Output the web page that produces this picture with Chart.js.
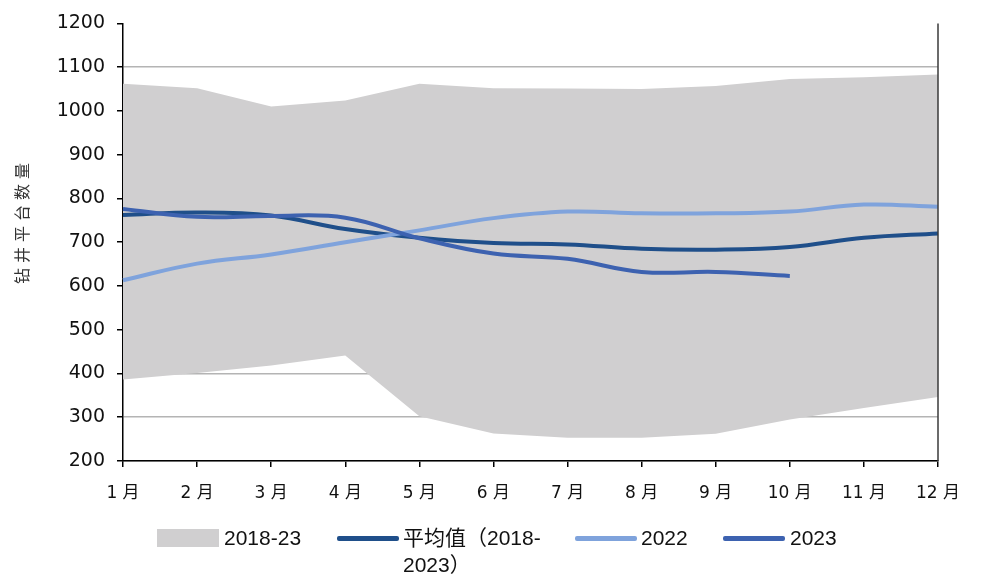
<!DOCTYPE html>
<html>
<head>
<meta charset="utf-8">
<script src="https://cdn.jsdelivr.net/npm/chart.js@4.4.1/dist/chart.umd.min.js"></script>
<style>
  body { margin: 0; background: #fff; }
  #wrap { position: relative; width: 994px; height: 578px; }
  #legend { position: absolute; left: 0; top: 0; width: 994px; height: 578px; pointer-events: none;
            font-family: "Liberation Sans", "Noto Sans CJK SC", sans-serif; font-size: 21px; color: #111; }
  .sw { position: absolute; }
  .lb { position: absolute; white-space: pre-line; line-height: 27px; }
</style>
</head>
<body>
<div id="wrap">
  <canvas id="rigChart" width="994" height="578"></canvas>
  <div id="legend"></div>
</div>
<script>
// 数据
const months = ['1 月', '2 月', '3 月', '4 月', '5 月', '6 月', '7 月', '8 月', '9 月', '10 月', '11 月', '12 月'];
const rangeLow  = [386, 401, 418, 441, 302, 263, 253, 253, 262, 295, 321, 346];
const rangeHigh = [1062, 1052, 1010, 1024, 1062, 1052, 1051, 1050, 1057, 1073, 1077, 1083];
const avg1823   = [762, 768, 761, 730, 710, 698, 695, 685, 683, 689, 710, 720];
const y2022     = [613, 651, 672, 700, 727, 755, 770, 766, 766, 770, 786, 781];
const y2023     = [776, 758, 760, 756, 709, 674, 662, 632, 632, 623, null, null];
const seriesNames = ['2018-23', '平均值（2018-\n2023）', '2022', '2023'];
const yTitle = '钻井平台数量';

const GRAY = '#d0cfd0';
const NAVY = '#1f4f8a';
const LIGHT = '#7fa3dc';
const MID = '#3d62b0';

// 右侧边框 + 纵轴标题
const extras = {
    id: 'extras',
    afterDatasetsDraw(chart) {
        const a = chart.chartArea, ctx = chart.ctx;
        ctx.save();
        ctx.strokeStyle = '#3a3a3a';
        ctx.lineWidth = 1.5;
        ctx.beginPath();
        ctx.moveTo(a.right, a.top);
        ctx.lineTo(a.right, a.bottom);
        ctx.stroke();
        ctx.restore();
    },
    afterDraw(chart) {
        const ctx = chart.ctx;
        ctx.save();
        ctx.translate(22, 223);
        ctx.rotate(-Math.PI / 2);
        ctx.font = '16px "Noto Sans CJK SC"';
        ctx.letterSpacing = '5px';
        ctx.fillStyle = '#333';
        ctx.textAlign = 'center';
        ctx.textBaseline = 'middle';
        ctx.fillText(yTitle, 2, 0);
        ctx.restore();
    }
};

const ctx = document.getElementById('rigChart').getContext('2d');
new Chart(ctx, {
    type: 'line',
    data: {
        labels: months,
        datasets: [
            { label: 'low', data: rangeLow, borderWidth: 0, borderColor: 'rgba(0,0,0,0)', pointRadius: 0, fill: false, tension: 0, order: 11 },
            { label: seriesNames[0], data: rangeHigh, borderWidth: 0, borderColor: 'rgba(0,0,0,0)', backgroundColor: GRAY, pointRadius: 0, fill: '-1', tension: 0, order: 10 },
            { label: seriesNames[1], data: avg1823, borderColor: NAVY, borderWidth: 4, pointRadius: 0, fill: false, tension: 0.4, order: 3 },
            { label: seriesNames[2], data: y2022, borderColor: LIGHT, borderWidth: 4, pointRadius: 0, fill: false, tension: 0.4, order: 2 },
            { label: seriesNames[3], data: y2023, borderColor: MID, borderWidth: 4, pointRadius: 0, fill: false, tension: 0.4, order: 1, spanGaps: false }
        ]
    },
    options: {
        responsive: false,
        animation: false,
        layout: { padding: { left: 0, top: 22, right: 56, bottom: 0 } },
        plugins: {
            legend: { display: false },
            tooltip: { enabled: false }
        },
        scales: {
            x: {
                afterFit: s => { s.height = 578 - 461; },
                grid: { drawOnChartArea: false, drawTicks: true, tickLength: 6, tickColor: '#000', lineWidth: 1.5 },
                border: { color: '#000', width: 1.5 },
                ticks: { padding: 16, maxRotation: 0, autoSkip: false, color: '#111',
                         font: { family: '"DejaVu Sans", "Noto Sans CJK SC"', size: 17 } }
            },
            y: {
                min: 200, max: 1200,
                afterFit: s => { s.width = 123; },
                grid: {
                    color: c => (c.tick && c.tick.value === 1200) ? 'rgba(0,0,0,0)' : '#b4b4b4',
                    lineWidth: 1.5, tickLength: 6, tickColor: '#000'
                },
                border: { color: '#000', width: 1.5 },
                ticks: { stepSize: 100, padding: 12, color: '#111', callback: v => String(v),
                         font: { family: '"DejaVu Sans"', size: 19 } }
            }
        }
    },
    plugins: [extras]
});

// 图例
const legend = document.getElementById('legend');
const legendItems = [
    { kind: 'box', color: GRAY, x: 157, tx: 224 },
    { kind: 'line', color: NAVY, x: 337, tx: 403 },
    { kind: 'line', color: LIGHT, x: 575, tx: 641 },
    { kind: 'line', color: MID, x: 723, tx: 790 }
];
legendItems.forEach((it, i) => {
    const sw = document.createElement('div');
    sw.className = 'sw';
    sw.style.left = it.x + 'px';
    sw.style.width = '62px';
    sw.style.background = it.color;
    if (it.kind === 'box') { sw.style.top = '529px'; sw.style.height = '18px'; }
    else { sw.style.top = '536px'; sw.style.height = '5px'; sw.style.borderRadius = '2px'; }
    legend.appendChild(sw);
    const lb = document.createElement('div');
    lb.className = 'lb';
    lb.style.left = it.tx + 'px';
    lb.style.top = '524px';
    lb.textContent = seriesNames[i];
    legend.appendChild(lb);
});
</script>
</body>
</html>
